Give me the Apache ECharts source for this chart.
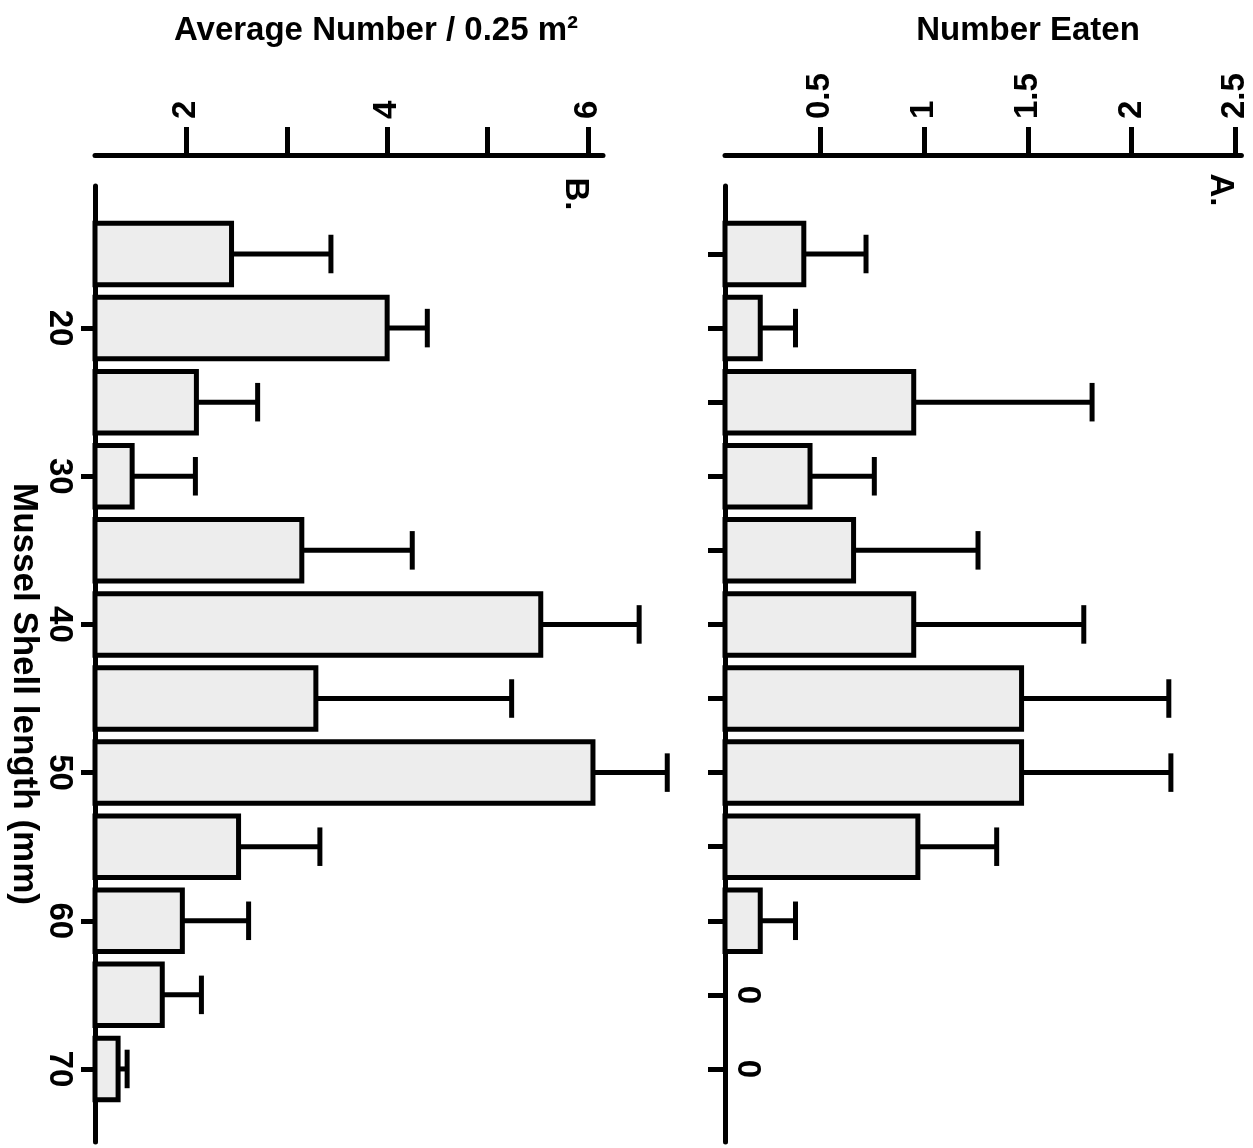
<!DOCTYPE html>
<html>
<head>
<meta charset="utf-8">
<script src="https://cdn.jsdelivr.net/npm/echarts@6/dist/echarts.min.js"></script>
<style>
html,body{margin:0;padding:0;background:#fff;}
#chart{width:1253px;height:1148px;}
</style>
</head>
<body>
<div id="chart"></div>
<script>
// ---- data ----
const shellLengths = [15, 20, 25, 30, 35, 40, 45, 50, 55, 60, 65, 70];
// Panel A: Number Eaten
const eatenMean = [0.42, 0.21, 0.95, 0.45, 0.66, 0.95, 1.47, 1.47, 0.97, 0.21, 0, 0];
const eatenSE   = [0.30, 0.17, 0.86, 0.31, 0.60, 0.82, 0.71, 0.72, 0.38, 0.17, 0, 0];
// Panel B: Average Number / 0.25 m2
const densityMean = [2.45, 4.00, 2.10, 1.46, 3.15, 5.53, 3.29, 6.05, 2.52, 1.96, 1.76, 1.32];
const densitySE   = [0.99, 0.40, 0.61, 0.63, 1.10, 0.98, 1.95, 0.74, 0.81, 0.66, 0.39, 0.09];
// tick values
const densityTicks = [2, 3, 4, 5, 6];
const densityTickLabels = [2, 4, 6];
const eatenTicks = [0.5, 1, 1.5, 2, 2.5];
const lengthTicksB = [20, 30, 40, 50, 60, 70];
const lengthTicksA = [15, 20, 25, 30, 35, 40, 45, 50, 55, 60, 65, 70];

// ---- styling ----
const FONT = '"Liberation Sans", Arial, Helvetica, sans-serif';
const BAR_SPAN = 4.15;  // bar thickness in mm units of the length axis
const CAP_SPAN = 2.6;   // error cap length in mm units
const LW = 5;

function barItem(params, api) {
  const v = api.value(0);
  const len = api.value(1);
  const cs = params.coordSys;
  const end = api.coord([v, len]);
  if (v === 0) {
    return {
      type: 'text', x: cs.x + 22, y: end[1], rotation: -Math.PI / 2,
      style: { text: '0', font: 'bold 33px ' + FONT, fill: '#000', align: 'center', verticalAlign: 'middle' }
    };
  }
  const start = api.coord([0, len]);
  const h = api.size([0, BAR_SPAN])[1];
  const rect = echarts.graphic.clipRectByRect(
    { x: start[0], y: end[1] - h / 2, width: end[0] - start[0], height: h },
    { x: cs.x, y: cs.y, width: cs.width, height: cs.height }
  );
  if (!rect) return null;
  return { type: 'rect', shape: rect, style: { fill: '#ededed', stroke: '#000', lineWidth: LW } };
}

function errItem(params, api) {
  const v = api.value(0), se = api.value(1), len = api.value(2);
  if (!(se > 0)) return null;
  const p0 = api.coord([v, len]);
  const p1 = api.coord([v + se, len]);
  const cap = api.size([0, CAP_SPAN])[1];
  return {
    type: 'group',
    children: [
      { type: 'line', shape: { x1: p0[0], y1: p0[1], x2: p1[0], y2: p1[1] }, style: { stroke: '#000', lineWidth: LW } },
      { type: 'line', shape: { x1: p1[0], y1: p1[1] - cap / 2, x2: p1[0], y2: p1[1] + cap / 2 }, style: { stroke: '#000', lineWidth: LW } }
    ]
  };
}

const labelFont = { fontFamily: FONT, fontWeight: 'bold', fontSize: 33, color: '#000' };
const axisLineStyle = { color: '#000', width: LW };

const chart = echarts.init(document.getElementById('chart'), null, { renderer: 'canvas' });
chart.setOption({
  animation: false,
  backgroundColor: '#fff',
  grid: [
    { left: 95, top: 186, width: 508, height: 956 },
    { left: 725, top: 186, width: 516.4, height: 956 }
  ],
  xAxis: [
    {
      gridIndex: 0, type: 'value', position: 'top', offset: 31,
      min: 1.09, max: 6.15,
      axisLine: { show: true, onZero: false, lineStyle: axisLineStyle },
      axisTick: { show: true, customValues: densityTicks, length: 28, lineStyle: axisLineStyle },
      axisLabel: Object.assign({ customValues: densityTickLabels, rotate: -90, margin: 36 }, labelFont),
      splitLine: { show: false }
    },
    {
      gridIndex: 1, type: 'value', position: 'top', offset: 31,
      min: 0.04, max: 2.53,
      axisLine: { show: true, onZero: false, lineStyle: axisLineStyle },
      axisTick: { show: true, customValues: eatenTicks, length: 28, lineStyle: axisLineStyle },
      axisLabel: Object.assign({ customValues: eatenTicks, rotate: -90, margin: 36 }, labelFont),
      splitLine: { show: false }
    }
  ],
  yAxis: [
    {
      gridIndex: 0, type: 'value', inverse: true, min: 10.41, max: 74.93,
      axisLine: { show: true, onZero: false, lineStyle: axisLineStyle },
      axisTick: { show: true, customValues: lengthTicksB, length: 14, lineStyle: axisLineStyle },
      axisLabel: Object.assign({ customValues: lengthTicksB, rotate: -90, margin: 19 }, labelFont),
      splitLine: { show: false }
    },
    {
      gridIndex: 1, type: 'value', inverse: true, min: 10.41, max: 74.93,
      axisLine: { show: true, onZero: false, lineStyle: axisLineStyle },
      axisTick: { show: true, customValues: lengthTicksA, length: 17, lineStyle: axisLineStyle },
      axisLabel: { show: false },
      splitLine: { show: false }
    }
  ],
  series: [
    {
      name: 'Average Number', type: 'custom', xAxisIndex: 0, yAxisIndex: 0,
      renderItem: barItem, encode: { x: 0, y: 1 },
      data: shellLengths.map((l, i) => [densityMean[i], l])
    },
    {
      name: 'Average Number SE', type: 'custom', xAxisIndex: 0, yAxisIndex: 0,
      renderItem: errItem, encode: { x: [0, 1], y: 2 },
      data: shellLengths.map((l, i) => [densityMean[i], densitySE[i], l])
    },
    {
      name: 'Number Eaten', type: 'custom', xAxisIndex: 1, yAxisIndex: 1,
      renderItem: barItem, encode: { x: 0, y: 1 },
      data: shellLengths.map((l, i) => [eatenMean[i], l])
    },
    {
      name: 'Number Eaten SE', type: 'custom', xAxisIndex: 1, yAxisIndex: 1,
      renderItem: errItem, encode: { x: [0, 1], y: 2 },
      data: shellLengths.map((l, i) => [eatenMean[i], eatenSE[i], l])
    }
  ],
  graphic: [
    { type: 'text', x: 376, y: 31, style: { text: 'Average Number / 0.25 m²', font: 'bold 33px ' + FONT, fill: '#000', align: 'center', verticalAlign: 'middle' } },
    { type: 'text', x: 1028, y: 31, style: { text: 'Number Eaten', font: 'bold 33px ' + FONT, fill: '#000', align: 'center', verticalAlign: 'middle' } },
    { type: 'text', x: 24, y: 694, rotation: -Math.PI / 2, style: { text: 'Mussel Shell length (mm)', font: 'bold 35px ' + FONT, fill: '#000', align: 'center', verticalAlign: 'middle' } },
    { type: 'text', x: 575, y: 194, rotation: -Math.PI / 2, style: { text: 'B.', font: 'bold 33px ' + FONT, fill: '#000', align: 'center', verticalAlign: 'middle' } },
    { type: 'text', x: 1220, y: 190, rotation: -Math.PI / 2, style: { text: 'A.', font: 'bold 33px ' + FONT, fill: '#000', align: 'center', verticalAlign: 'middle' } }
  ]
});
</script>
</body>
</html>
